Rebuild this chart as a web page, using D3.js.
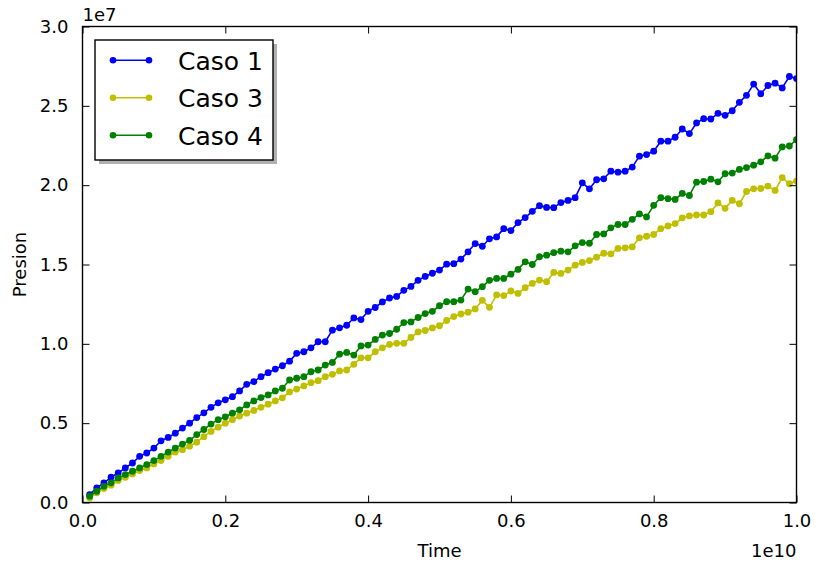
<!DOCTYPE html>
<html>
<head>
<meta charset="utf-8">
<script src="https://cdn.jsdelivr.net/npm/d3@7"></script>
<style>
  body { margin: 0; background: #fff; }
  svg { display: block; font-family: "DejaVu Sans", sans-serif; }
</style>
</head>
<body>
<svg id="chart" width="818" height="565"></svg>
<script>
// ---- data (time step index i -> t = i * 1e8, values in units of 1e7) ----
const timeStep = 1e8;
const caso1 = [
  0.050, 0.092, 0.124, 0.159, 0.186, 0.218, 0.249, 0.291, 0.312, 0.343,
  0.389, 0.410, 0.437, 0.469, 0.500, 0.535, 0.565, 0.600, 0.628, 0.647,
  0.667, 0.703, 0.745, 0.762, 0.793, 0.818, 0.841, 0.862, 0.891, 0.940,
  0.950, 0.975, 1.013, 1.013, 1.086, 1.101, 1.117, 1.163, 1.153, 1.205,
  1.229, 1.264, 1.289, 1.299, 1.337, 1.362, 1.400, 1.425, 1.445, 1.465,
  1.502, 1.505, 1.534, 1.580, 1.632, 1.615, 1.662, 1.674, 1.726, 1.714,
  1.764, 1.796, 1.835, 1.871, 1.860, 1.858, 1.890, 1.904, 1.921, 2.015,
  1.977, 2.034, 2.040, 2.088, 2.082, 2.088, 2.114, 2.183, 2.193, 2.214,
  2.277, 2.277, 2.302, 2.354, 2.325, 2.392, 2.419, 2.417, 2.453, 2.440,
  2.469, 2.522, 2.566, 2.637, 2.576, 2.628, 2.643, 2.613, 2.685, 2.672
];
const caso3 = [
  0.029, 0.061, 0.088, 0.109, 0.138, 0.159, 0.180, 0.201, 0.218, 0.243,
  0.264, 0.291, 0.318, 0.333, 0.355, 0.380, 0.415, 0.448, 0.475, 0.500,
  0.522, 0.545, 0.563, 0.580, 0.600, 0.620, 0.640, 0.660, 0.697, 0.715,
  0.735, 0.755, 0.768, 0.793, 0.808, 0.829, 0.835, 0.871, 0.912, 0.912,
  0.950, 0.975, 0.996, 1.003, 1.003, 1.040, 1.075, 1.084, 1.100, 1.114,
  1.147, 1.172, 1.188, 1.199, 1.220, 1.274, 1.230, 1.308, 1.304, 1.333,
  1.318, 1.354, 1.381, 1.402, 1.392, 1.450, 1.444, 1.465, 1.496, 1.513,
  1.525, 1.546, 1.571, 1.567, 1.601, 1.605, 1.611, 1.668, 1.678, 1.689,
  1.726, 1.743, 1.758, 1.794, 1.806, 1.812, 1.812, 1.833, 1.888, 1.854,
  1.904, 1.883, 1.960, 1.977, 1.979, 1.994, 1.967, 2.048, 2.009, 2.026
];
const caso4 = [
  0.040, 0.071, 0.102, 0.124, 0.155, 0.176, 0.197, 0.218, 0.239, 0.264,
  0.291, 0.318, 0.343, 0.368, 0.392, 0.428, 0.460, 0.494, 0.522, 0.540,
  0.563, 0.584, 0.615, 0.640, 0.661, 0.678, 0.703, 0.720, 0.772, 0.783,
  0.793, 0.824, 0.835, 0.866, 0.883, 0.935, 0.946, 0.929, 0.987, 0.992,
  1.028, 1.055, 1.065, 1.092, 1.134, 1.138, 1.166, 1.191, 1.205, 1.240,
  1.266, 1.266, 1.276, 1.345, 1.329, 1.360, 1.400, 1.412, 1.412, 1.439,
  1.469, 1.517, 1.500, 1.549, 1.559, 1.574, 1.584, 1.580, 1.618, 1.638,
  1.634, 1.689, 1.693, 1.731, 1.752, 1.752, 1.785, 1.819, 1.800, 1.873,
  1.921, 1.915, 1.910, 1.948, 1.935, 2.019, 2.023, 2.038, 2.021, 2.072,
  2.076, 2.099, 2.111, 2.126, 2.147, 2.185, 2.170, 2.241, 2.247, 2.287
];
const seriesNames = ["Caso 1", "Caso 3", "Caso 4"];
const seriesColors = ["#0000ff", "#bfbf00", "#008000"];
const xTicks = [0, 0.2e10, 0.4e10, 0.6e10, 0.8e10, 1.0e10];
const xTickLabels = ["0.0", "0.2", "0.4", "0.6", "0.8", "1.0"];
const yTicks = [0, 0.5e7, 1.0e7, 1.5e7, 2.0e7, 2.5e7, 3.0e7];
const yTickLabels = ["0.0", "0.5", "1.0", "1.5", "2.0", "2.5", "3.0"];

const seriesValues = [caso1, caso3, caso4];
const series = seriesNames.map((name, k) => ({
  name, color: seriesColors[k],
  points: seriesValues[k].map((v, i) => ({ t: (i + 1) * timeStep, p: v * 1e7 }))
}));

// ---- layout ----
const svg = d3.select("#chart");
const L = 82.5, R = 796.5, T = 26.5, B = 502.5;
const x = d3.scaleLinear().domain([0, 1e10]).range([L, R]);
const y = d3.scaleLinear().domain([0, 3e7]).range([B, T]);

svg.append("defs").append("clipPath").attr("id", "clip")
  .append("rect").attr("x", L).attr("y", T).attr("width", R - L).attr("height", B - T);

const plot = svg.append("g").attr("clip-path", "url(#clip)");
const line = d3.line().x(d => x(d.t)).y(d => y(d.p));
series.forEach(s => {
  const g = plot.append("g");
  g.append("path").datum(s.points).attr("d", line)
    .attr("fill", "none").attr("stroke", s.color).attr("stroke-width", 1.6)
    .attr("stroke-linejoin", "round");
  g.selectAll("circle").data(s.points).join("circle")
    .attr("cx", d => x(d.t)).attr("cy", d => y(d.p)).attr("r", 3.4)
    .attr("fill", s.color);
});

// ---- axes (ticks inward on all sides) ----
const tickLen = 7;
const axB = d3.axisBottom(x).tickValues(xTicks).tickSize(-tickLen).tickPadding(12)
  .tickFormat((d, i) => xTickLabels[i]);
const axT = d3.axisTop(x).tickValues(xTicks).tickSize(-tickLen).tickFormat("");
const axL = d3.axisLeft(y).tickValues(yTicks).tickSize(-tickLen).tickPadding(14)
  .tickFormat((d, i) => yTickLabels[i]);
const axR = d3.axisRight(y).tickValues(yTicks).tickSize(-tickLen).tickFormat("");

function styleAxis(g) {
  g.select(".domain").remove();
  g.selectAll(".tick line").attr("stroke", "#000").attr("stroke-width", 1);
  g.selectAll(".tick text").attr("fill", "#000").style("font-size", "18px")
    .style("font-family", "DejaVu Sans");
}
svg.append("g").attr("transform", `translate(0,${B})`).call(axB).call(styleAxis);
svg.append("g").attr("transform", `translate(0,${T})`).call(axT).call(styleAxis);
svg.append("g").attr("transform", `translate(${L},0)`).call(axL).call(styleAxis);
svg.append("g").attr("transform", `translate(${R},0)`).call(axR).call(styleAxis);

// spines
svg.append("rect").attr("x", L).attr("y", T).attr("width", R - L).attr("height", B - T)
  .attr("fill", "none").attr("stroke", "#000").attr("stroke-width", 1.4);

// ---- labels ----
svg.append("text").attr("x", (L + R) / 2).attr("y", 557).attr("text-anchor", "middle")
  .style("font-size", "18px").text("Time");
svg.append("text").attr("transform", `translate(26,${(T + B) / 2}) rotate(-90)`)
  .attr("text-anchor", "middle").style("font-size", "18px").text("Presion");
svg.append("text").attr("x", R).attr("y", 557).attr("text-anchor", "end")
  .style("font-size", "18px").text("1e10");
svg.append("text").attr("x", L).attr("y", 20.5).attr("text-anchor", "start")
  .style("font-size", "18px").text("1e7");

// ---- legend ----
const lg = svg.append("g");
const lx = 95, ly = 40, lw = 178, lh = 120;
lg.append("rect").attr("x", lx + 4).attr("y", ly + 4).attr("width", lw).attr("height", lh)
  .attr("fill", "#b0b0b0");
lg.append("rect").attr("x", lx).attr("y", ly).attr("width", lw).attr("height", lh)
  .attr("fill", "#fff").attr("stroke", "#000").attr("stroke-width", 1.4);
series.forEach((s, k) => {
  const yy = 60.3 + k * 37.5;
  lg.append("line").attr("x1", 113).attr("x2", 149).attr("y1", yy).attr("y2", yy)
    .attr("stroke", s.color).attr("stroke-width", 1.6);
  [113, 149].forEach(cx => lg.append("circle").attr("cx", cx).attr("cy", yy).attr("r", 3.3)
    .attr("fill", s.color));
  lg.append("text").attr("x", 178).attr("y", yy + 9.3).style("font-size", "25px")
    .attr("fill", "#000").text(s.name);
});
</script>
</body>
</html>
